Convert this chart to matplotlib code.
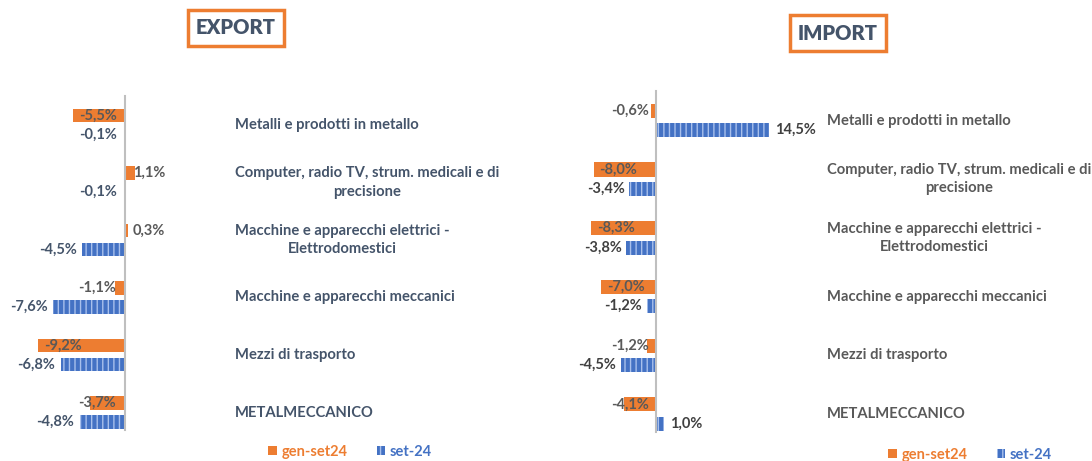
import numpy as np
import matplotlib.pyplot as plt
from matplotlib.patches import Patch

categories = ["Metalli e prodotti in metallo",
              "Computer, radio TV, strum. medicali e di\nprecisione",
              "Macchine e apparecchi elettrici -\nElettrodomestici",
              "Macchine e apparecchi meccanici",
              "Mezzi di trasporto",
              "METALMECCANICO"]
series = ["gen-set24", "set-24"]

export_genset = [-5.5, 1.1, 0.3, -1.1, -9.2, -3.7]
export_set = [-0.1, -0.1, -4.5, -7.6, -6.8, -4.8]
import_genset = [-0.6, -8.0, -8.3, -7.0, -1.2, -4.1]
import_set = [14.5, -3.4, -3.8, -1.2, -4.5, 1.0]

ORANGE = "#ED7D31"
BLUE = "#4472C4"
HATCH = "#A8C0EC"
DARKBLUE = "#44546A"
GRAY = "#595959"

plt.rcParams['font.family'] = ['Lato', 'DejaVu Sans']
plt.rcParams['hatch.linewidth'] = 1.0

W, H = 1092, 461
fig = plt.figure(figsize=(W / 100, H / 100), dpi=100)


def px_axes(x0, y0, x1, y1):
    # axes from pixel box (top-left origin)
    return fig.add_axes([x0 / W, 1 - y1 / H, (x1 - x0) / W, (y1 - y0) / H])


def fmt(v):
    return ("%.1f%%" % v).replace(".", ",")


def panel(ax, orange, blue, xlim, ylim, label_x, cat_color, val_color):
    y = np.arange(len(categories))
    off, h = 0.165, 0.24
    ax.barh(y - off, orange, height=h, color=ORANGE, linewidth=0)
    ax.barh(y + off, blue, height=h, color=BLUE, edgecolor=HATCH, hatch="|||", linewidth=0)
    ax.plot([0, 0], [-0.5, len(categories) - 0.7], color="#BFBFBF", lw=1.5, zorder=3)
    ax.set_xlim(*xlim)
    ax.set_ylim(*ylim)
    ax.axis("off")

    fs = 10.5
    for yi, v in zip(y, orange):
        if v > 0:
            ax.text(0.85, yi - off, fmt(v), ha="left", va="center", fontsize=fs, fontweight="bold", color=GRAY)
        elif v < -5:
            ax.text(v + 0.7, yi - off, fmt(v), ha="left", va="center", fontsize=fs, fontweight="bold", color=GRAY)
        else:
            ax.text(-0.95, yi - off, fmt(v), ha="right", va="center", fontsize=fs, fontweight="bold", color=GRAY)
    for yi, v in zip(y, blue):
        if v > 0:
            ax.text(v + 0.8, yi + off, fmt(v), ha="left", va="center", fontsize=fs, fontweight="bold", color=val_color)
        else:
            ax.text(min(v, -0.2) - 0.6, yi + off, fmt(v), ha="right", va="center", fontsize=fs, fontweight="bold", color=val_color)

    for yi, c in zip(y, categories):
        ax.text(label_x, yi, c, ha="left", va="center", multialignment="center",
                fontsize=10.6, fontweight="bold", color=cat_color, clip_on=False, linespacing=1.4)


# EXPORT panel: zero at px 125, 9.46 px per %, rows every 57.5 px from 125
axl = px_axes(10, 60, 220, 440)
panel(axl, export_genset, export_set,
      ((10 - 125) / 9.46, (220 - 125) / 9.46),
      ((440 - 125) / 57.5, (60 - 125) / 57.5),
      (235 - 125) / 9.46, DARKBLUE, DARKBLUE)

# IMPORT panel: zero at px 656, 7.8 px per %, rows every 58.7 px from 120.5
axr = px_axes(560, 60, 820, 440)
panel(axr, import_genset, import_set,
      ((560 - 656) / 7.8, (820 - 656) / 7.8),
      ((440 - 120.5) / 58.7, (60 - 120.5) / 58.7),
      (827 - 656) / 7.8, GRAY, "#404040")

# titles
box = dict(boxstyle="square,pad=0.42", fc="white", ec=ORANGE, lw=2.5)
fig.text(236 / W, 1 - 28 / H, "EXPORT", ha="center", va="center", fontsize=14.5,
         fontweight="heavy", color=DARKBLUE, bbox=box)
fig.text(838 / W, 1 - 33 / H, "IMPORT", ha="center", va="center", fontsize=14.5,
         fontweight="heavy", color=DARKBLUE, bbox=box)

# legends
handles = [Patch(facecolor=ORANGE, linewidth=0),
           Patch(facecolor=BLUE, edgecolor=HATCH, hatch="|||", linewidth=0)]
for cx, cy in ((350, 452), (970, 455)):
    leg = fig.legend(handles, series, loc="center", bbox_to_anchor=(cx / W, 1 - cy / H),
                     ncol=2, frameon=False, handlelength=0.6, handleheight=0.6,
                     handletextpad=0.3, columnspacing=2.0, prop={"weight": "bold", "size": 10.5})
    for t, col in zip(leg.get_texts(), (ORANGE, BLUE)):
        t.set_color(col)

fig.savefig("out.png", dpi=100, facecolor="white")
